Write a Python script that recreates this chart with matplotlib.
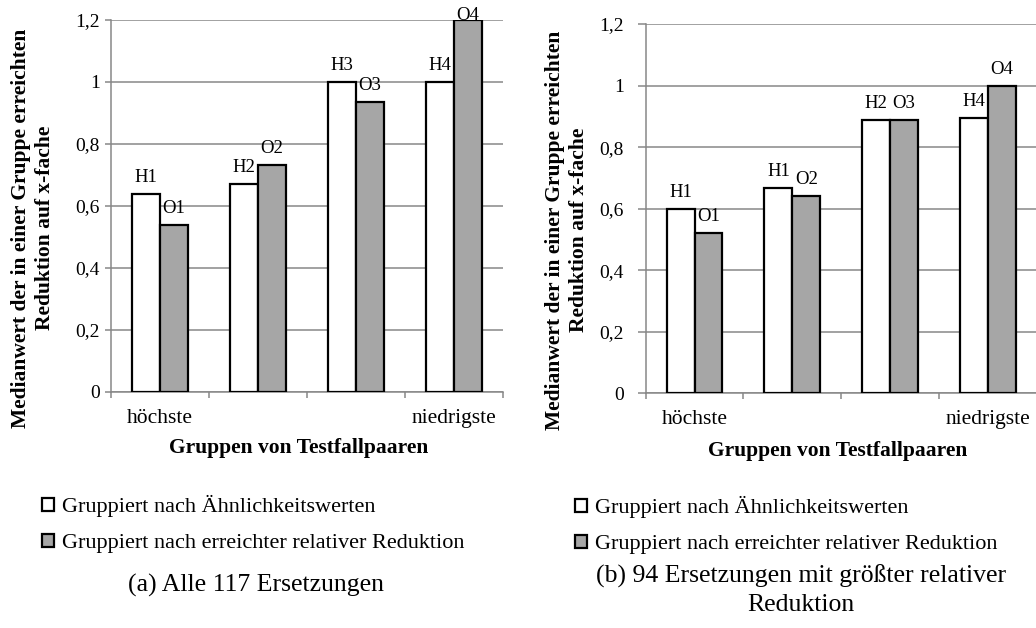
import matplotlib
matplotlib.use("Agg")
import matplotlib.pyplot as plt
from matplotlib.patches import Patch
import numpy as np

# ---- data ----
groups = ["höchste", "", "", "niedrigste"]
series_names = ["Gruppiert nach Ähnlichkeitswerten",
                "Gruppiert nach erreichter relativer Reduktion"]

a_sim = [0.64, 0.672, 1.0, 1.0]
a_red = [0.54, 0.731, 0.935, 1.2]
a_sim_labels = ["H1", "H2", "H3", "H4"]
a_red_labels = ["O1", "O2", "O3", "O4"]

b_sim = [0.60, 0.668, 0.888, 0.895]
b_red = [0.522, 0.642, 0.888, 1.0]
b_sim_labels = ["H1", "H1", "H2", "H4"]
b_red_labels = ["O1", "O2", "O3", "O4"]

yticks = [0, 0.2, 0.4, 0.6, 0.8, 1.0, 1.2]
ytick_labels = ["0", "0,2", "0,4", "0,6", "0,8", "1", "1,2"]

ylabel = "Medianwert der in einer Gruppe erreichten\nReduktion auf x-fache"
xlabel = "Gruppen von Testfallpaaren"
caption_a = "(a) Alle 117 Ersetzungen"
caption_b = "(b) 94 Ersetzungen mit größter relativer\nReduktion"

# ---- style ----
plt.rcParams['font.family'] = ['Liberation Serif', 'DejaVu Serif']
W, H = 1036, 628
DPI = 100
GRID = "#878787"
GRAYFILL = "#a6a6a6"
PX = 72.0 / DPI  # points per pixel

fig = plt.figure(figsize=(W / DPI, H / DPI), dpi=DPI)


def fx(px):
    return px / W


def fy(py):
    return 1 - py / H


def make_panel(rect, sim, red, sim_lab, red_lab, tick_len_px, tick_pad_px):
    ax = fig.add_axes(rect)
    x = np.arange(len(groups))
    bw = 0.285
    ax.bar(x - bw / 2, sim, bw, color="white", edgecolor="black",
           linewidth=1.6, zorder=3)
    ax.bar(x + bw / 2, red, bw, color=GRAYFILL, edgecolor="black",
           linewidth=1.6, zorder=3)
    ax.set_xlim(-0.5, len(groups) - 0.5)
    ax.set_ylim(0, 1.2)
    for xs, vals, labs in ((x - bw / 2, sim, sim_lab), (x + bw / 2, red, red_lab)):
        for xi, v, lab in zip(xs, vals, labs):
            off = 12 * PX if v < 1.2 - 1e-9 else 0.0
            ax.annotate(lab, (xi, v), xytext=(0, off), textcoords="offset points",
                        ha="center", va="baseline", fontsize=13.5,
                        annotation_clip=False, zorder=4)
    # axes styling
    for s in ("top", "right"):
        ax.spines[s].set_visible(False)
    for s in ("left", "bottom"):
        ax.spines[s].set_color(GRID)
        ax.spines[s].set_linewidth(1.1)
    ax.set_yticks(yticks)
    ax.set_yticklabels(ytick_labels, fontsize=14)
    ax.tick_params(axis="y", direction="out", length=tick_len_px * PX,
                   width=1.1, color=GRID, pad=tick_pad_px * PX)
    ax.yaxis.grid(True, color=GRID, linewidth=1.1, zorder=0)
    ax.set_axisbelow(True)
    ax.set_xticks(x)
    ax.set_xticklabels(groups, fontsize=15.5)
    ax.set_xticks(np.arange(len(groups) + 1) - 0.5, minor=True)
    ax.tick_params(axis="x", which="major", length=0, pad=17 * PX)
    ax.tick_params(axis="x", which="minor", direction="out",
                   length=6 * PX, width=1.1, color=GRID)
    return ax


ax1 = make_panel([fx(111), fy(392), fx(392), (392 - 20) / H],
                 a_sim, a_red, a_sim_labels, a_red_labels, 6, 5)
ax2 = make_panel([fx(645.7), fy(393.3), fx(391), (393.3 - 24) / H],
                 b_sim, b_red, b_sim_labels, b_red_labels, 8, 14)

# y labels
fig.text(fx(33), fy(228), ylabel, rotation=90, ha="center", va="center",
         multialignment="center", fontsize=15.5, fontweight="bold",
         linespacing=1.3)
fig.text(fx(567), fy(230), ylabel, rotation=90, ha="center", va="center",
         multialignment="center", fontsize=15.5, fontweight="bold",
         linespacing=1.3)

# x labels
fig.text(fx(299), fy(453), xlabel, ha="center", va="baseline",
         fontsize=15.5, fontweight="bold")
fig.text(fx(838), fy(456), xlabel, ha="center", va="baseline",
         fontsize=15.5, fontweight="bold")

# legends
handles = [Patch(facecolor="white", edgecolor="black", linewidth=1.6),
           Patch(facecolor=GRAYFILL, edgecolor="black", linewidth=1.6)]
for x0, y0 in ((42, 495), (575, 496)):
    fig.legend(handles, series_names, loc="upper left",
               bbox_to_anchor=(fx(x0), fy(y0)), frameon=False,
               fontsize=16, handlelength=0.55, handleheight=0.55,
               handletextpad=0.35, labelspacing=0.75, borderpad=0,
               borderaxespad=0)

# captions
fig.text(fx(256), fy(585), caption_a, ha="center", va="center", fontsize=18.5)
fig.text(fx(801), fy(590), caption_b, ha="center", va="center", fontsize=18.5,
         linespacing=1.35)

fig.savefig("out.png", dpi=DPI)
